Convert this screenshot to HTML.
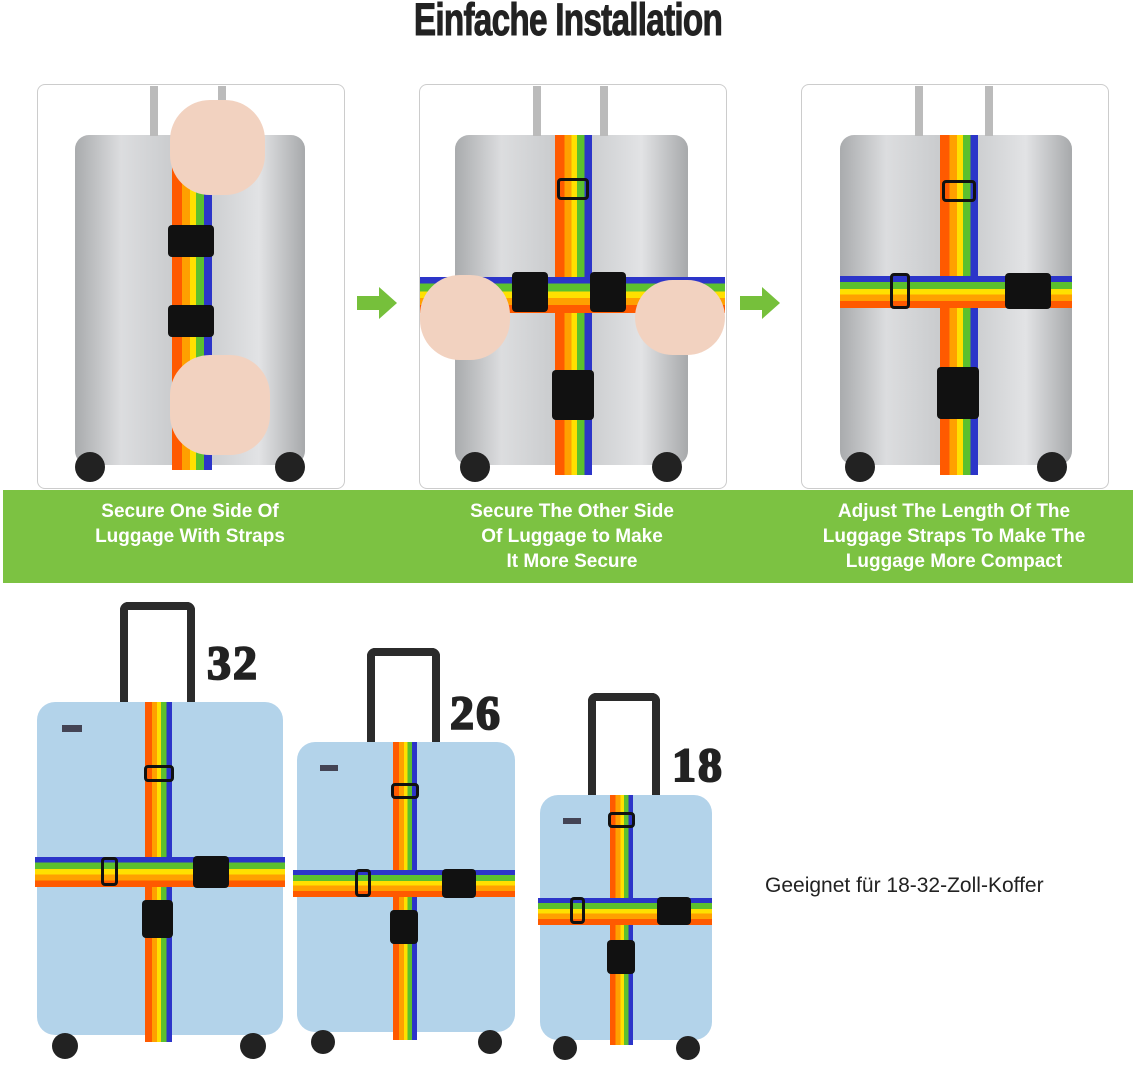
<!DOCTYPE html>
<html><head><meta charset="utf-8"><style>
body{margin:0;width:1136px;height:1065px;background:#fff;position:relative;overflow:hidden;font-family:"Liberation Sans",sans-serif}
.a{position:absolute}
.title{left:0;width:1136px;top:-6px;text-align:center;font-weight:900;font-size:45px;color:#222;transform:scaleX(.74);letter-spacing:-1px;-webkit-text-stroke:1px #222}
.panel{top:84px;width:306px;height:403px;border:1px solid #ccc;border-radius:8px;background:#fff;overflow:hidden}
.gs{background:linear-gradient(90deg,#a9abad,#dcdddf 20%,#c4c6c8 50%,#e2e3e5 80%,#a7a9ab);border-radius:14px}
.v{background:linear-gradient(90deg,#ff5a00 0 25%,#ffa000 25% 45%,#ffe000 45% 60%,#5cc02e 60% 80%,#2c35c9 80%)}
.h{background:linear-gradient(180deg,#2c35c9 0 18%,#5cc02e 18% 40%,#ffe000 40% 58%,#ffa000 58% 78%,#ff5a00 78%)}
.buck{background:#111;border-radius:4px}
.loop{border:3px solid #111;border-radius:4px;box-sizing:border-box}
.bs{background:#b3d3ea;border-radius:18px}
.wh{background:#222;border-radius:50%}
.hd{border:8px solid #2b2b2b;border-bottom:none;border-radius:8px 8px 0 0;box-sizing:border-box}
.num{font-family:"Liberation Serif",serif;font-weight:bold;font-size:48px;color:#222;-webkit-text-stroke:2px #222;letter-spacing:2px}
.band{left:3px;top:490px;width:1130px;height:93px;background:#7cc242}
.cap{color:#fff;font-weight:bold;font-size:19px;text-align:center;line-height:25px}
.arr{width:0;height:0;border-top:16px solid transparent;border-bottom:16px solid transparent;border-left:18px solid #76c03b}
.hand{background:#f2d2c0;border-radius:40px}
</style></head><body>
<div class="a title">Einfache Installation</div>

<div class="a panel" style="left:37px"></div>
<div class="a panel" style="left:419px"></div>
<div class="a panel" style="left:801px"></div>

<!-- panel 1 -->
<div class="a gs" style="left:75px;top:135px;width:230px;height:330px"></div>
<div class="a" style="left:150px;top:86px;width:8px;height:50px;background:#bbb"></div>
<div class="a" style="left:218px;top:86px;width:8px;height:50px;background:#bbb"></div>
<div class="a v" style="left:172px;top:135px;width:40px;height:335px"></div>
<div class="a hand" style="left:170px;top:100px;width:95px;height:95px"></div>
<div class="a buck" style="left:168px;top:225px;width:46px;height:32px"></div>
<div class="a buck" style="left:168px;top:305px;width:46px;height:32px"></div>
<div class="a hand" style="left:170px;top:355px;width:100px;height:100px"></div>
<div class="a wh" style="left:75px;top:452px;width:30px;height:30px"></div>
<div class="a wh" style="left:275px;top:452px;width:30px;height:30px"></div>

<!-- panel 2 -->
<div class="a gs" style="left:455px;top:135px;width:233px;height:330px"></div>
<div class="a" style="left:533px;top:86px;width:8px;height:50px;background:#bbb"></div>
<div class="a" style="left:600px;top:86px;width:8px;height:50px;background:#bbb"></div>
<div class="a v" style="left:555px;top:135px;width:37px;height:340px"></div>
<div class="a h" style="left:420px;top:277px;width:305px;height:36px"></div>
<div class="a loop" style="left:557px;top:178px;width:32px;height:22px"></div>
<div class="a buck" style="left:552px;top:370px;width:42px;height:50px"></div>
<div class="a buck" style="left:512px;top:272px;width:36px;height:40px"></div>
<div class="a buck" style="left:590px;top:272px;width:36px;height:40px"></div>
<div class="a hand" style="left:420px;top:275px;width:90px;height:85px"></div>
<div class="a hand" style="left:635px;top:280px;width:90px;height:75px"></div>
<div class="a wh" style="left:460px;top:452px;width:30px;height:30px"></div>
<div class="a wh" style="left:652px;top:452px;width:30px;height:30px"></div>

<!-- panel 3 -->
<div class="a gs" style="left:840px;top:135px;width:232px;height:330px"></div>
<div class="a" style="left:915px;top:86px;width:8px;height:50px;background:#bbb"></div>
<div class="a" style="left:985px;top:86px;width:8px;height:50px;background:#bbb"></div>
<div class="a v" style="left:940px;top:135px;width:38px;height:340px"></div>
<div class="a h" style="left:840px;top:276px;width:232px;height:32px"></div>
<div class="a loop" style="left:942px;top:180px;width:34px;height:22px"></div>
<div class="a loop" style="left:890px;top:273px;width:20px;height:36px"></div>
<div class="a buck" style="left:1005px;top:273px;width:46px;height:36px"></div>
<div class="a buck" style="left:937px;top:367px;width:42px;height:52px"></div>
<div class="a wh" style="left:845px;top:452px;width:30px;height:30px"></div>
<div class="a wh" style="left:1037px;top:452px;width:30px;height:30px"></div>

<!-- arrows -->
<div class="a" style="left:357px;top:296px;width:22px;height:14px;background:#76c03b"></div>
<div class="a arr" style="left:379px;top:287px"></div>
<div class="a" style="left:740px;top:296px;width:22px;height:14px;background:#76c03b"></div>
<div class="a arr" style="left:762px;top:287px"></div>

<div class="a band"></div>
<div class="a cap" style="left:37px;top:499px;width:306px">Secure One Side Of<br>Luggage With Straps</div>
<div class="a cap" style="left:419px;top:499px;width:306px">Secure The Other Side<br>Of Luggage to Make<br>It More Secure</div>
<div class="a cap" style="left:801px;top:499px;width:306px">Adjust The Length Of The<br>Luggage Straps To Make The<br>Luggage More Compact</div>

<!-- bottom suitcase 1 -->
<div class="a hd" style="left:120px;top:602px;width:75px;height:102px"></div>
<div class="a bs" style="left:37px;top:702px;width:246px;height:333px"></div>
<div class="a" style="left:62px;top:725px;width:20px;height:7px;background:#445"></div>
<div class="a v" style="left:145px;top:702px;width:27px;height:340px"></div>
<div class="a h" style="left:35px;top:857px;width:250px;height:30px"></div>
<div class="a loop" style="left:144px;top:765px;width:30px;height:17px"></div>
<div class="a loop" style="left:101px;top:857px;width:17px;height:29px"></div>
<div class="a buck" style="left:193px;top:856px;width:36px;height:32px"></div>
<div class="a buck" style="left:142px;top:900px;width:31px;height:38px"></div>
<div class="a wh" style="left:52px;top:1033px;width:26px;height:26px"></div>
<div class="a wh" style="left:240px;top:1033px;width:26px;height:26px"></div>
<div class="a num" style="left:207px;top:636px">32</div>

<!-- suitcase 2 -->
<div class="a hd" style="left:367px;top:648px;width:73px;height:96px"></div>
<div class="a bs" style="left:297px;top:742px;width:218px;height:290px"></div>
<div class="a" style="left:320px;top:765px;width:18px;height:6px;background:#445"></div>
<div class="a v" style="left:393px;top:742px;width:24px;height:298px"></div>
<div class="a h" style="left:293px;top:870px;width:222px;height:27px"></div>
<div class="a loop" style="left:391px;top:783px;width:28px;height:16px"></div>
<div class="a loop" style="left:355px;top:869px;width:16px;height:28px"></div>
<div class="a buck" style="left:442px;top:869px;width:34px;height:29px"></div>
<div class="a buck" style="left:390px;top:910px;width:28px;height:34px"></div>
<div class="a wh" style="left:311px;top:1030px;width:24px;height:24px"></div>
<div class="a wh" style="left:478px;top:1030px;width:24px;height:24px"></div>
<div class="a num" style="left:450px;top:686px">26</div>

<!-- suitcase 3 -->
<div class="a hd" style="left:588px;top:693px;width:72px;height:104px"></div>
<div class="a bs" style="left:540px;top:795px;width:172px;height:245px"></div>
<div class="a" style="left:563px;top:818px;width:18px;height:6px;background:#445"></div>
<div class="a v" style="left:610px;top:795px;width:23px;height:250px"></div>
<div class="a h" style="left:538px;top:898px;width:174px;height:27px"></div>
<div class="a loop" style="left:608px;top:812px;width:27px;height:16px"></div>
<div class="a loop" style="left:570px;top:897px;width:15px;height:27px"></div>
<div class="a buck" style="left:657px;top:897px;width:34px;height:28px"></div>
<div class="a buck" style="left:607px;top:940px;width:28px;height:34px"></div>
<div class="a wh" style="left:553px;top:1036px;width:24px;height:24px"></div>
<div class="a wh" style="left:676px;top:1036px;width:24px;height:24px"></div>
<div class="a num" style="left:672px;top:738px">18</div>

<div class="a" style="left:765px;top:874px;font-size:21px;color:#222">Geeignet für 18-32-Zoll-Koffer</div>
</body></html>
